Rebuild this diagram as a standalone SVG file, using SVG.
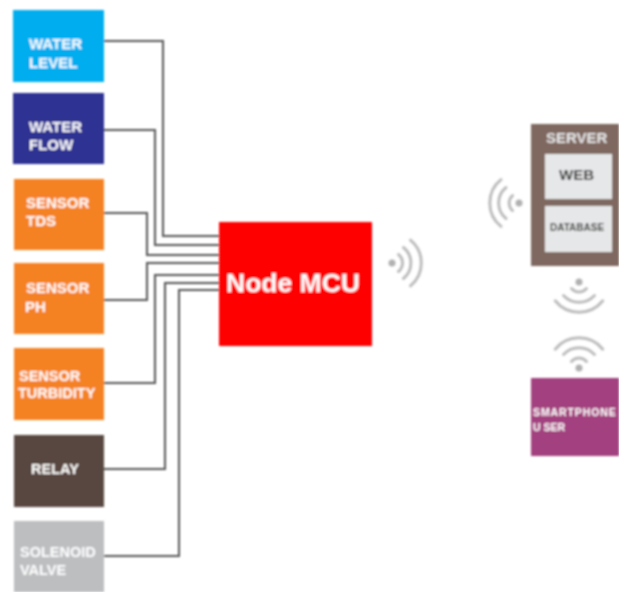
<svg xmlns="http://www.w3.org/2000/svg" width="619" height="592" viewBox="0 0 619 592">
<defs>
<filter id="soft" x="-5%" y="-5%" width="110%" height="110%"><feGaussianBlur stdDeviation="0.8"/></filter>
</defs>
<style>
text{font-family:"Liberation Sans",Arial,sans-serif;font-weight:700;fill:#fff}
.lbl{font-size:15px}
.small{font-size:14.500px}
.conn{fill:none;stroke:#555;stroke-width:2}
.wifi{fill:none;stroke:#bdbdbd;stroke-width:3;stroke-linecap:round}
.dot{fill:#b0b0b0}
</style>
<rect width="619" height="592" fill="#fff"/>
<g filter="url(#soft)">
<g id="connectors">
<path class="conn" d="M104 41H163V236H219"/>
<path class="conn" d="M104 130H155V245H219"/>
<path class="conn" d="M104 213H147V255H219"/>
<path class="conn" d="M104 300H147V263H219"/>
<path class="conn" d="M104 383H155V275H219"/>
<path class="conn" d="M104 469H165V283H219"/>
<path class="conn" d="M104 556H179V290H219"/>
</g>
<g id="water-level"><rect x="13" y="10" width="91" height="72" fill="#00aeef"/><text class="lbl" x="29" y="49">WATER</text><text class="lbl" x="29" y="68">LEVEL</text></g>
<g id="water-flow"><rect x="13" y="93" width="91" height="71" fill="#2e3192"/><text class="lbl" x="29" y="132">WATER</text><text class="lbl" x="29" y="150">FLOW</text></g>
<g id="sensor-tds"><rect x="14" y="179" width="90" height="71" fill="#f58220"/><text class="lbl" x="26" y="208">SENSOR</text><text class="lbl" x="26" y="226">TDS</text></g>
<g id="sensor-ph"><rect x="14" y="263" width="90" height="71" fill="#f58220"/><text class="lbl" x="26" y="293">SENSOR</text><text class="lbl" x="25" y="312">PH</text></g>
<g id="sensor-turbidity"><rect x="14" y="348" width="90" height="72" fill="#f58220"/><text class="small" x="19" y="381">SENSOR</text><text class="small" x="18" y="398">TURBIDITY</text></g>
<g id="relay"><rect x="14" y="435" width="90" height="72" fill="#584641"/><text class="small" x="31" y="474">RELAY</text></g>
<g id="solenoid-valve"><rect x="14" y="521" width="90" height="71" fill="#bcbec0"/><text class="small" x="20" y="557">SOLENOID</text><text class="small" x="20" y="575">VALVE</text></g>
<g id="node-mcu"><rect x="219" y="222" width="153" height="124" fill="#ff0000"/><text x="226" y="292" font-size="26.500">Node MCU</text></g>
<g id="wifi-node">
<circle class="dot" cx="392" cy="263" r="3.5"/>
<path class="wifi" d="M398.500 254.500A11 11 0 0 1 398.500 271.500M403.500 247.500A20 20 0 0 1 403.500 278.500M410.500 240.200A29.500 29.500 0 0 1 410.500 285.800"/>
</g>
<g id="server">
<rect x="531" y="124" width="88" height="142" fill="#7f675e"/>
<text x="546" y="143" font-size="15" style="fill:#e6e7e8">SERVER</text>
<rect x="545" y="154" width="67" height="45" fill="#e6e7e8"/>
<rect x="545" y="206" width="67" height="46" fill="#e6e7e8"/>
<text x="559" y="180" font-size="15" style="fill:#333">WEB</text>
<text x="550" y="231" font-size="10" style="fill:#333">DATABASE</text>
</g>
<g id="wifi-server">
<circle class="dot" cx="519" cy="203" r="3.5"/>
<path class="wifi" d="M512.500 195.500A10 10 0 0 0 512.500 210.500M506 187.500A20 20 0 0 0 506 218.500M501 179.600A30 30 0 0 0 501 226.400"/>
</g>
<g id="wifi-down">
<circle class="dot" cx="579" cy="282" r="3.5"/>
<path class="wifi" d="M571.500 288.500A10 10 0 0 0 586.500 288.500M563.500 295.500A21 21 0 0 0 594.500 295.500M555.200 300.800A30.500 30.500 0 0 0 602.800 300.800"/>
</g>
<g id="wifi-up">
<circle class="dot" cx="579" cy="368" r="3.5"/>
<path class="wifi" d="M571.500 361.500A10 10 0 0 1 586.500 361.500M563.500 354.500A21 21 0 0 1 594.500 354.500M555.200 349.200A30.500 30.500 0 0 1 602.800 349.200"/>
</g>
<g id="smartphone-user"><rect x="531" y="378" width="88" height="78" fill="#a3417f"/><text x="533" y="416" font-size="10.500" letter-spacing="0.900">SMARTPHONE</text><text x="533" y="431" font-size="10.500">U SER</text></g>
</g>
</svg>
